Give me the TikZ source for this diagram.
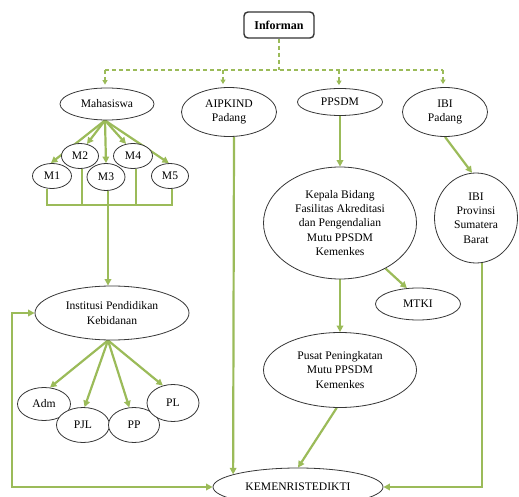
\documentclass[tikz,border=0pt]{standalone}
\usepackage{fontspec}
\setmainfont{Liberation Serif}
\usetikzlibrary{shapes.geometric,arrows.meta,calc}
\definecolor{gr}{RGB}{155,187,89}
\definecolor{edgec}{RGB}{55,55,55}
\pgfdeclarelayer{bg}
\pgfsetlayers{bg,main}
\begin{document}
\begin{tikzpicture}[x=1pt,y=-1pt,
 ell/.style={ellipse,draw=edgec,line width=0.8pt,fill=white,inner sep=0pt,align=center,font=\fontsize{11.6}{14.2}\selectfont},
 gline/.style={draw=gr,line width=2.2pt},
 garrow/.style={gline,-{Triangle[length=6.5pt,width=6.5pt]}},
 dline/.style={draw=gr,line width=1.1pt,dash pattern=on 4pt off 3pt},
 darrow/.style={dline,-{Triangle[length=4.5pt,width=5pt]},shorten >=3pt},
 ]
\useasboundingbox (0,0) rectangle (519,497);

\node[draw=black!80,line width=1.4pt,rounded corners=4pt,minimum width=70pt,minimum height=26pt,inner sep=0pt,font=\bfseries\fontsize{12}{14}\selectfont] (inf) at (279,25) {Informan};

\node[ell,minimum width=94pt,minimum height=32pt] (maha) at (107,104) {Mahasiswa};
\node[ell,minimum width=95pt,minimum height=49pt] (aip) at (229,112) {AIPKIND\\Padang};
\node[ell,minimum width=85pt,minimum height=27pt] (pps) at (340,102) {PPSDM};
\node[ell,minimum width=85pt,minimum height=49pt] (ibi) at (445,112) {IBI\\Padang};

\node[ell,minimum width=37pt,minimum height=25pt] (m2) at (80,156) {M2};
\node[ell,minimum width=39pt,minimum height=25pt] (m4) at (133,156) {M4};
\node[ell,minimum width=39pt,minimum height=25pt] (m1) at (52,176) {M1};
\node[ell,minimum width=38pt,minimum height=27pt] (m3) at (106,177) {M3};
\node[ell,minimum width=37pt,minimum height=25pt] (m5) at (170,176) {M5};

\node[ell,minimum width=154pt,minimum height=54pt] (inst) at (112,313) {Institusi Pendidikan\\Kebidanan};

\node[ell,minimum width=53pt,minimum height=33pt] (adm) at (44,404) {Adm};
\node[ell,minimum width=53pt,minimum height=35pt] (pjl) at (83,425) {PJL};
\node[ell,minimum width=51pt,minimum height=35pt] (pp) at (134,425) {PP};
\node[ell,minimum width=52pt,minimum height=37pt] (pl) at (173,403) {PL};

\node[ell,minimum width=153pt,minimum height=112pt] (kep) at (340,223) {Kepala Bidang\\Fasilitas Akreditasi\\dan Pengendalian\\Mutu PPSDM\\Kemenkes};
\node[ell,minimum width=85pt,minimum height=32pt] (mtki) at (418,304) {MTKI};
\node[ell,minimum width=153pt,minimum height=75pt] (pus) at (340,370) {Pusat Peningkatan\\Mutu PPSDM\\Kemenkes};
\node[ell,minimum width=83pt,minimum height=90pt] (ibip) at (476,218) {IBI\\Provinsi\\Sumatera\\Barat};
\node[ell,minimum width=170pt,minimum height=38pt] (kemen) at (298,487) {KEMENRISTEDIKTI};

\begin{pgfonlayer}{bg}
% dashed distribution
\coordinate (dj) at (0,70);
\coordinate (dx1) at (105,0);
\coordinate (dx2) at (223,0);
\coordinate (dx3) at (339,0);
\coordinate (dx4) at (443,0);
\draw[dline] (inf.south) -- (inf.south |- dj);
\draw[dline] (dx1 |- dj) -- (dx4 |- dj);
\draw[darrow] (dx1 |- dj) -- (dx1 |- maha.north);
\draw[darrow] (dx2 |- dj) -- (dx2 |- aip.north);
\draw[darrow] (dx3 |- dj) -- (dx3 |- pps.north);
\draw[darrow] (dx4 |- dj) -- (dx4 |- ibi.north);

% Mahasiswa to M nodes
\coordinate (ma) at ($(maha.south)+(-2,0)$);
\draw[garrow] (ma) -- (m1.95);
\draw[garrow] (ma) -- (m2.60);
\draw[garrow] (ma) -- (m3.90);
\draw[garrow] (ma) -- (m4.120);
\draw[garrow] (ma) -- (m5.95);

% bus below M nodes
\coordinate (bus) at (0,205);
\coordinate (b1) at ($(m1.south)+(-5,0)$);
\coordinate (b2) at ($(m2.south)+(2,0)$);
\coordinate (b3) at ($(m3.south)+(2,0)$);
\coordinate (b4) at ($(m4.south)+(3,0)$);
\coordinate (b5) at ($(m5.south)+(2,0)$);
\draw[gline] (b1) -- (b1 |- bus) -- (b5 |- bus) -- (b5);
\draw[gline] (b2) -- (b2 |- bus);
\draw[gline] (b4) -- (b4 |- bus);
\draw[garrow] (b3) -- (b3 |- inst.north);

% Institusi to sub nodes
\coordinate (is) at ($(inst.south)+(-4,0)$);
\draw[garrow] (is) -- (adm.70);
\draw[garrow] (is) -- (pjl.85);
\draw[garrow] (is) -- (pp.105);
\draw[garrow] (is) -- (pl.120);

% loop KEMENRISTEDIKTI <-> Institusi
\draw[gline,{Triangle[length=6.5pt,width=6.5pt]}-{Triangle[length=6.5pt,width=6.5pt]}] (inst.west) -- ++(-23,0) |- (kemen.west);

% AIPKIND
\draw[garrow] ($(aip.south)+(5,0)$) -- (kemen.169);

% PPSDM chain
\draw[garrow] (pps.south) -- (kep.north);
\draw[garrow] (kep.-45) -- (mtki.125);
\draw[garrow] (kep.south) -- (pus.north);
\draw[garrow] (pus.265) -- (kemen.north);

% IBI chain
\draw[garrow] (ibi.south) -- (ibip.95);
\draw[garrow] ($(ibip.south)+(6,0)$) |- (kemen.east);
\end{pgfonlayer}
\end{tikzpicture}
\end{document}
